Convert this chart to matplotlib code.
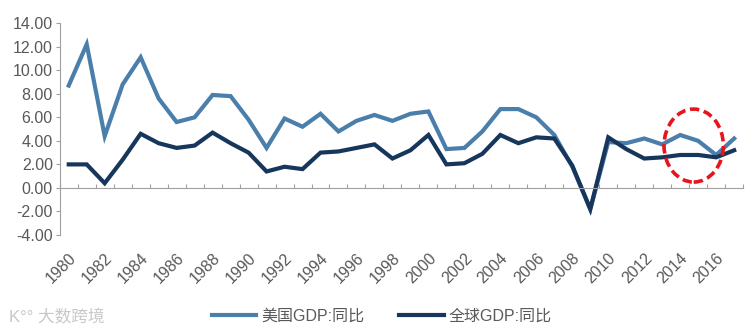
import numpy as np
import matplotlib
matplotlib.use("Agg")
import matplotlib.pyplot as plt
from matplotlib.patches import Ellipse

plt.rcParams['font.family'] = ['Liberation Sans', 'Noto Sans CJK SC', 'DejaVu Sans']

years = list(range(1980, 2018))
us_gdp = [8.7, 12.2, 4.4, 8.8, 11.1, 7.6, 5.6, 6.0, 7.9, 7.8,
          5.8, 3.4, 5.9, 5.2, 6.3, 4.8, 5.7, 6.2, 5.7, 6.3,
          6.5, 3.3, 3.4, 4.8, 6.7, 6.7, 6.0, 4.5, 1.8, -1.8,
          3.9, 3.8, 4.2, 3.7, 4.5, 4.0, 2.8, 4.2]
world_gdp = [2.0, 2.0, 0.4, 2.4, 4.6, 3.8, 3.4, 3.6, 4.7, 3.8,
             3.0, 1.4, 1.8, 1.6, 3.0, 3.1, 3.4, 3.7, 2.5, 3.2,
             4.5, 2.0, 2.1, 2.9, 4.5, 3.8, 4.3, 4.2, 1.9, -1.8,
             4.3, 3.3, 2.5, 2.6, 2.8, 2.8, 2.6, 3.2]
series_names = ['美国GDP:同比', '全球GDP:同比']

light_blue = '#4a7eab'
navy = '#17365b'
axis_grey = '#a0a0a0'
label_grey = '#595959'

x = np.arange(len(years))

fig = plt.figure(figsize=(7.56, 3.31), dpi=100)
ax = fig.add_axes([0.079, 0.29, 0.904, 0.64])

l1, = ax.plot(x, us_gdp, color=light_blue, lw=3.0, solid_joinstyle='miter')
l2, = ax.plot(x, world_gdp, color=navy, lw=3.0, solid_joinstyle='miter')

ax.set_xlim(-0.5, len(years) - 0.5)
ax.set_ylim(-4, 14)
ax.set_yticks(np.arange(-4, 15, 2))
ax.set_yticklabels(['%.2f' % v for v in np.arange(-4, 15, 2)])
ax.tick_params(axis='y', direction='out', length=3, color=axis_grey,
               labelsize=11.5, labelcolor=label_grey, pad=2)

for side in ['top', 'right']:
    ax.spines[side].set_visible(False)
ax.spines['left'].set_color(axis_grey)
ax.spines['bottom'].set_color(axis_grey)
ax.spines['bottom'].set_position(('data', 0))

# category boundaries as small inward ticks on the zero line
ax.set_xticks(np.arange(-0.5, len(years), 1.0))
ax.tick_params(axis='x', direction='in', length=3, color=axis_grey,
               labelbottom=False)

# year labels sit below the plotting area
sec = ax.secondary_xaxis('bottom')
sec.spines['bottom'].set_visible(False)
sec.set_xticks(x[::2])
sec.set_xticklabels([str(y) for y in years[::2]], rotation=45, ha='right',
                    va='top', rotation_mode='anchor')
sec.tick_params(length=0, labelsize=11.5, labelcolor=label_grey, pad=11)

# highlight of recent years
ax.add_patch(Ellipse((34.75, 3.6), 3.3, 6.2, fill=False, edgecolor='#e8141b',
                     lw=2.6, linestyle=(0, (2.6, 1.3)), zorder=5))

fig.legend([l1, l2], series_names, loc='center', bbox_to_anchor=(0.505, 0.045),
           ncol=2, frameon=False, handlelength=2.8, columnspacing=2.2,
           handletextpad=0.3, prop={'size': 11.5},
           labelcolor=label_grey)

fig.text(0.012, 0.04, 'K°° 大数跨境', color='#c8c8c8', fontsize=12,
         va='center', ha='left')

fig.savefig('out.png', dpi=100)
